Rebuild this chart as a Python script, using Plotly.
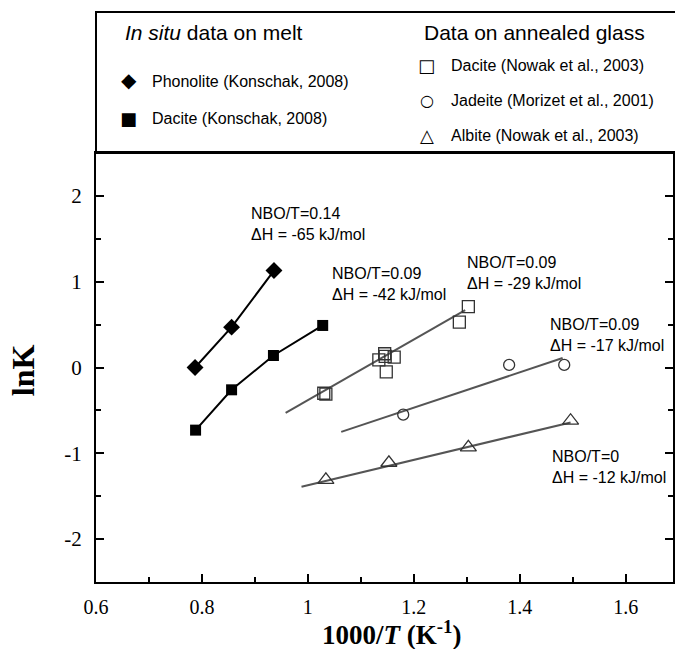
import plotly.graph_objects as go

# In situ data on melt (Konschak, 2008)
phon_x = [0.787, 0.856, 0.936]
phon_y = [0.0, 0.47, 1.13]
dac_k_x = [0.788, 0.856, 0.935, 1.028]
dac_k_y = [-0.73, -0.26, 0.14, 0.49]

# annealed glass data
dac_n_x = [1.030, 1.034, 1.134, 1.145, 1.146, 1.163, 1.148, 1.286, 1.303]
dac_n_y = [-0.30, -0.31, 0.09, 0.16, 0.13, 0.12, -0.05, 0.53, 0.71]
jad_x = [1.180, 1.380, 1.484]
jad_y = [-0.55, 0.03, 0.03]
alb_x = [1.034, 1.153, 1.303, 1.496]
alb_y = [-1.31, -1.11, -0.93, -0.62]

# fitted lines for the annealed glass (end points)
dac_n_fit_x = [0.958, 1.297]
dac_n_fit_y = [-0.53, 0.67]
jad_fit_x = [1.063, 1.481]
jad_fit_y = [-0.75, 0.11]
alb_fit_x = [0.988, 1.496]
alb_fit_y = [-1.39, -0.64]

y_ticks = [-2, -1, 0, 1, 2]
y_tick_text = ["-2", "-1", "0", "1", "2"]

# labels next to the lines: (x, y, NBO/T, dH)
line_labels = [
    (0.889, 1.676, "0.14", "-65"),
    (1.042, 0.979, "0.09", "-42"),
    (1.297, 1.099, "0.09", "-29"),
    (1.454, 0.376, "0.09", "-17"),
    (1.457, -1.158, "0", "-12"),
]

W, H = 675, 649
ML, MT, MB = 96, 153, 67
PLOT_W = W - ML
PLOT_H = H - MT - MB

def px(xp):
    return (xp - ML) / PLOT_W

def py(yp):
    return (H - MB - yp) / PLOT_H

SANS = "Liberation Sans, Arial, sans-serif"
SERIF = "Liberation Serif, Times New Roman, serif"
SYM = "DejaVu Sans, sans-serif"

fig = go.Figure()

for fx, fy in [(dac_n_fit_x, dac_n_fit_y), (jad_fit_x, jad_fit_y), (alb_fit_x, alb_fit_y)]:
    fig.add_trace(go.Scatter(x=fx, y=fy, mode="lines", line=dict(color="#555555", width=2),
                             showlegend=False, hoverinfo="skip"))

fig.add_trace(go.Scatter(x=phon_x, y=phon_y, mode="lines+markers", name="Phonolite (Konschak, 2008)",
                         line=dict(color="black", width=2),
                         marker=dict(symbol="diamond", size=13, color="black")))
fig.add_trace(go.Scatter(x=dac_k_x, y=dac_k_y, mode="lines+markers", name="Dacite (Konschak, 2008)",
                         line=dict(color="black", width=2),
                         marker=dict(symbol="square", size=11, color="black")))
fig.add_trace(go.Scatter(x=dac_n_x, y=dac_n_y, mode="markers", name="Dacite (Nowak et al., 2003)",
                         marker=dict(symbol="square-open", size=12, color="#333333",
                                     line=dict(width=1.3))))
fig.add_trace(go.Scatter(x=jad_x, y=jad_y, mode="markers", name="Jadeite (Morizet et al., 2001)",
                         marker=dict(symbol="circle-open", size=11, color="#333333",
                                     line=dict(width=1.3))))
fig.add_trace(go.Scatter(x=alb_x, y=alb_y, mode="markers", name="Albite (Nowak et al., 2003)",
                         marker=dict(symbol="triangle-up-open", size=14, color="#333333",
                                     line=dict(width=1.3))))

annotations = []
for lx, ly, nbo, dh in line_labels:
    annotations.append(dict(x=lx, y=ly, xref="x", yref="y", xanchor="left", yanchor="middle",
                            align="left", showarrow=False,
                            text=f"NBO/T={nbo}<br>\u0394H = {dh} kJ/mol",
                            font=dict(family=SANS, size=16, color="black")))

# legend box content
legend_items = [
    (123, 33, "<i>In situ</i> data on melt", 21),
    (423, 33, "Data on annealed glass", 21),
    (150, 82, "Phonolite (Konschak, 2008)", 16),
    (150, 118, "Dacite (Konschak, 2008)", 16),
    (450, 65, "Dacite (Nowak et al., 2003)", 16),
    (450, 100, "Jadeite (Morizet et al., 2001)", 16),
    (450, 136, "Albite (Nowak et al., 2003)", 16),
]
for xp, yp, txt, sz in legend_items:
    annotations.append(dict(x=px(xp), y=py(yp), xref="paper", yref="paper", xanchor="left",
                            yanchor="middle", showarrow=False, text=txt,
                            font=dict(family=SANS, size=sz, color="black")))

legend_symbols = [
    (129, 80, "\u25c6", 20),
    (129, 118, "\u25a0", 18),
    (428, 65, "\u25a1", 18),
    (428, 100, "\u25cb", 16),
    (428, 135, "\u25b3", 18),
]
for xp, yp, s, sz in legend_symbols:
    annotations.append(dict(x=px(xp), y=py(yp), xref="paper", yref="paper", xanchor="center",
                            yanchor="middle", showarrow=False, text=s,
                            font=dict(family=SYM, size=sz, color="black")))

# axis titles
annotations.append(dict(x=px(393), y=py(633), xref="paper", yref="paper", showarrow=False,
                        xanchor="center", yanchor="middle", borderpad=0,
                        text="<b>1000/<i>T</i> (K<sup>-1</sup>)</b>",
                        font=dict(family=SERIF, size=27, color="black")))
annotations.append(dict(x=px(23), y=py(370), xref="paper", yref="paper", showarrow=False,
                        xanchor="center", yanchor="middle", textangle=-90,
                        text="<b>lnK</b>", font=dict(family=SERIF, size=32, color="black")))

fig.update_layout(
    width=W, height=H,
    margin=dict(l=ML, r=0, t=MT, b=MB),
    plot_bgcolor="white", paper_bgcolor="white",
    showlegend=False,
    annotations=annotations,
    shapes=[dict(type="rect", xref="paper", yref="paper", x0=0, x1=1.05, y0=1, y1=py(12),
                 line=dict(color="black", width=2))],
)

fig.update_xaxes(
    range=[0.6, 0.6 + PLOT_W / 531.5], dtick=0.2, tick0=0.6,
    showline=True, linecolor="black", linewidth=2, mirror=True,
    ticks="inside", ticklen=8, tickwidth=2, tickcolor="black",
    minor=dict(dtick=0.1, ticks="inside", ticklen=5, tickwidth=2, tickcolor="black"),
    showgrid=False, zeroline=False, ticklabelstandoff=6,
    tickfont=dict(family=SERIF, size=20, color="black"),
)
fig.update_yaxes(
    range=[-2.5, 2.5], tickmode="array", tickvals=y_ticks, ticktext=y_tick_text,
    showline=True, linecolor="black", linewidth=2, mirror="ticks",
    ticks="inside", ticklen=8, tickwidth=2, tickcolor="black",
    minor=dict(dtick=0.5, tick0=0, ticks="inside", ticklen=5, tickwidth=2, tickcolor="black"),
    showgrid=False, zeroline=False, ticklabelstandoff=8,
    tickfont=dict(family=SERIF, size=21, color="black"),
)

# drop the default page margin so the figure sits at the top-left corner
fig.write_html("out.html", config={"displayModeBar": False},
               post_script="document.body.style.margin='0';")
